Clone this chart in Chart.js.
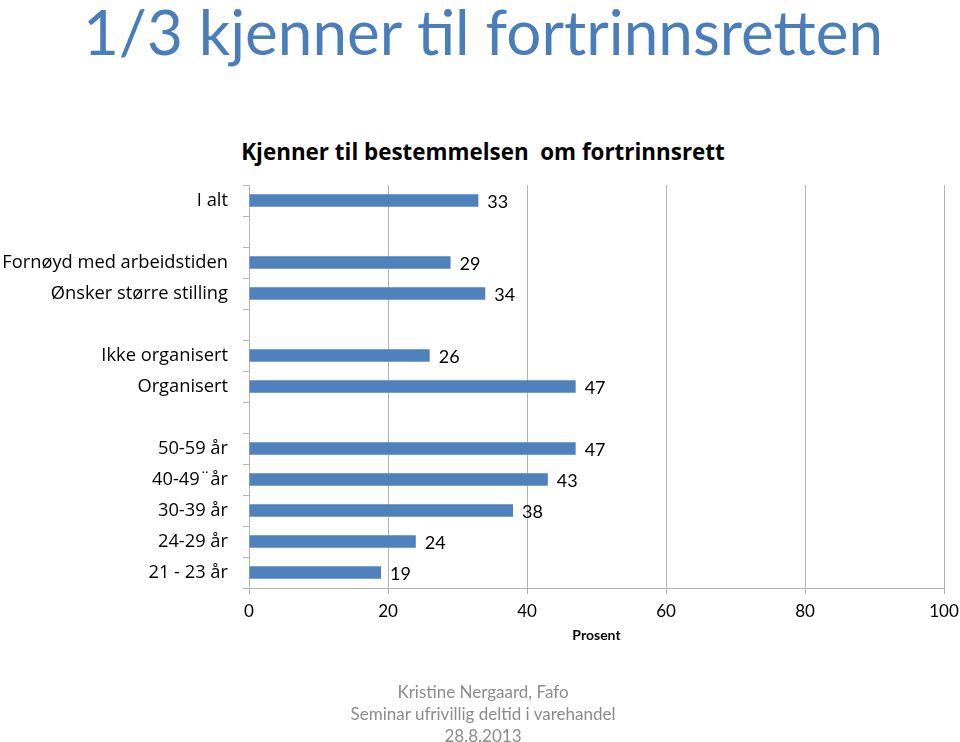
<!DOCTYPE html>
<html>
<head>
<meta charset="utf-8">
<script src="https://cdn.jsdelivr.net/npm/chart.js@4.4.0/dist/chart.umd.min.js"></script>
<style>
    body { margin: 0; background: #fff; width: 960px; height: 742px; overflow: hidden; position: relative; font-family: Lato, sans-serif; }
    #chart { position: absolute; left: 0; top: 0; }
    #headline { position: absolute; left: 0; top: 0; width: 966px; text-align: center; font-size: 62px; line-height: 62px; color: #4a7ebb; white-space: nowrap; }
    #chart-title { position: absolute; left: 0; top: 138px; width: 966px; text-align: center; font-family: "Open Sans", sans-serif; font-weight: bold; font-size: 22.4px; line-height: 28px; color: #000; white-space: pre; }
    #footer { position: absolute; left: 0; top: 681px; width: 966px; text-align: center; font-size: 17px; line-height: 22px; color: #8c8c8c; }
</style>
</head>
<body>
<div id="headline">1/3 kjenner til fortrinnsretten</div>
<div id="chart-title"></div>
<canvas id="chart" width="960" height="742"></canvas>
<div id="footer">Kristine Nergaard, Fafo<br>Seminar ufrivillig deltid i varehandel<br>28.8.2013</div>
<script>
// categories top to bottom, empty strings are the gaps between groups
const categories = ["I alt", "", "Fornøyd med arbeidstiden", "Ønsker større stilling", "",
    "Ikke organisert", "Organisert", "", "50-59 år", "40-49¨år", "30-39 år", "24-29 år", "21 - 23 år"];
const shares = [33, null, 29, 34, null, 26, 47, null, 47, 43, 38, 24, 19];
const xTicks = [0, 20, 40, 60, 80, 100];

const chartTitle = "Kjenner til bestemmelsen  om fortrinnsrett";
const axisTitle = "Prosent";

const font = "Lato";
const labelFont = "Open Sans";

document.getElementById("chart-title").textContent = chartTitle;

// draws the value next to the end of each bar
const valueLabels = {
    id: "valueLabels",
    afterDatasetsDraw(chart) {
        const ctx = chart.ctx;
        const meta = chart.getDatasetMeta(0);
        ctx.save();
        ctx.font = "18px " + font;
        ctx.fillStyle = "#000";
        ctx.textBaseline = "middle";
        meta.data.forEach((bar, i) => {
            const v = chart.data.datasets[0].data[i];
            if (v === null) return;
            ctx.fillText(String(v), bar.x + 9, bar.y + 2);
        });
        ctx.restore();
    }
};

new Chart(document.getElementById("chart"), {
    type: "bar",
    data: {
        labels: categories,
        datasets: [{
            data: shares,
            backgroundColor: "#4F81BD",
            barPercentage: 0.4,
            categoryPercentage: 1
        }]
    },
    options: {
        indexAxis: "y",
        responsive: false,
        animation: false,
        layout: { padding: { top: 185, left: 0, right: 16, bottom: 94 } },
        plugins: {
            legend: { display: false },
            tooltip: { enabled: false }
        },
        scales: {
            x: {
                min: 0,
                max: 100,
                afterBuildTicks(s) { s.ticks = xTicks.map(v => ({ value: v })); },
                ticks: { color: "#000", font: { family: font, size: 17 }, padding: 7 },
                grid: { color: "#b3b3b3", tickLength: 6 },
                border: { color: "#b3b3b3" },
                title: {
                    display: true,
                    text: axisTitle,
                    color: "#000",
                    font: { family: font, size: 14, weight: "bold" },
                    padding: { top: 0, bottom: 4 }
                },
                afterFit(s) { s.height = 60; s.paddingLeft = 0; s.paddingRight = 0; }
            },
            y: {
                ticks: { color: "#000", font: { family: labelFont, size: 18.3 }, padding: 15, autoSkip: false },
                grid: { drawOnChartArea: false, tickLength: 6, color: "#b3b3b3" },
                border: { color: "#b3b3b3" },
                afterFit(s) { s.width = 249; s.paddingTop = 0; s.paddingBottom = 0; }
            }
        }
    },
    plugins: [valueLabels]
});
</script>
</body>
</html>
